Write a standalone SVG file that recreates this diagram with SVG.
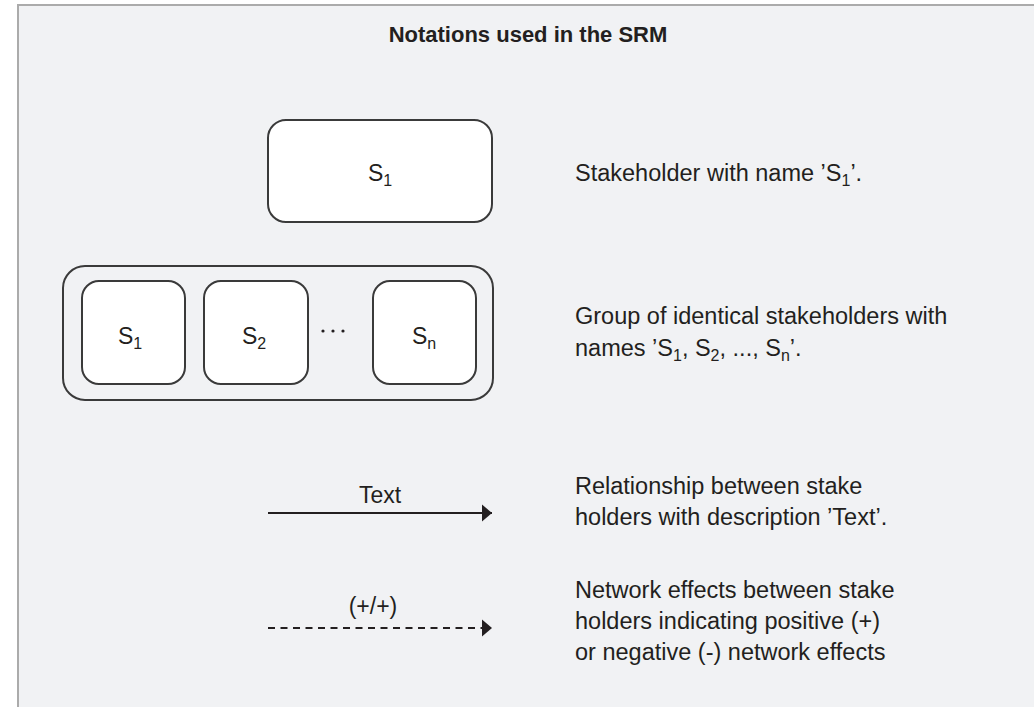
<svg xmlns="http://www.w3.org/2000/svg" width="1034" height="707" viewBox="0 0 1034 707">
  <style>
    text { font-family: "Liberation Sans", Arial, sans-serif; fill: #231f20; }
    .title { font-size: 22px; font-weight: bold; }
    .lbl { font-size: 23px; }
    .desc { font-size: 23.5px; }
    .sub { font-size: 16px; }
    .node { fill: #ffffff; stroke: #3a3a3a; stroke-width: 2; }
    .group { fill: none; stroke: #3a3a3a; stroke-width: 2; }
    .edge { fill: none; stroke: #231f20; stroke-width: 2; }
    .dashed { stroke-dasharray: 7 5.5; }
  </style>
  <defs>
    <marker id="arrow" markerUnits="userSpaceOnUse" markerWidth="12" markerHeight="20" refX="11" refY="9.5" orient="auto">
      <path d="M1,1 L11,9.5 L1,18 Z" fill="#231f20"/>
    </marker>
  </defs>

  <!-- page and panel frame -->
  <rect x="0" y="0" width="1034" height="707" fill="#ffffff"/>
  <rect x="18" y="5" width="1030" height="720" fill="#f1f2f4" stroke="#ababab" stroke-width="2"/>

  <text class="title" x="528" y="42" text-anchor="middle">Notations used in the SRM</text>

  <!-- single stakeholder -->
  <g id="stakeholder">
    <rect class="node" x="268" y="120" width="224" height="102" rx="18"/>
    <text class="lbl" x="368" y="181">S<tspan class="sub" dy="5">1</tspan></text>
  </g>

  <!-- group of stakeholders -->
  <g id="stakeholder-group">
    <rect class="group" x="63" y="266" width="430" height="134" rx="22"/>
    <g id="group-s1">
      <rect class="node" x="82" y="281" width="103" height="103" rx="17"/>
      <text class="lbl" x="118" y="344">S<tspan class="sub" dy="5">1</tspan></text>
    </g>
    <g id="group-s2">
      <rect class="node" x="204" y="281" width="104" height="103" rx="17"/>
      <text class="lbl" x="242" y="344">S<tspan class="sub" dy="5">2</tspan></text>
    </g>
    <g id="group-dots" fill="#231f20">
      <circle cx="323" cy="331" r="1.6"/>
      <circle cx="333" cy="331" r="1.6"/>
      <circle cx="343" cy="331" r="1.6"/>
    </g>
    <g id="group-sn">
      <rect class="node" x="373" y="281" width="103" height="103" rx="17"/>
      <text class="lbl" x="412" y="344">S<tspan class="sub" dy="5">n</tspan></text>
    </g>
  </g>

  <!-- connectors -->
  <g id="connectors">
    <line class="edge" x1="268" y1="513" x2="492" y2="513" marker-end="url(#arrow)"/>
    <text class="lbl" x="380" y="503" text-anchor="middle">Text</text>
    <line class="edge dashed" x1="268" y1="628" x2="492" y2="628" marker-end="url(#arrow)"/>
    <text class="lbl" x="373" y="614" text-anchor="middle">(+/+)</text>
  </g>

  <!-- descriptions -->
  <g id="descriptions">
    <text class="desc" x="575" y="181">Stakeholder with name ’S<tspan class="sub" dy="5">1</tspan><tspan dy="-5">’.</tspan></text>
    <text class="desc" x="575" y="324">Group of identical stakeholders with</text>
    <text class="desc" x="575" y="356">names ’S<tspan class="sub" dy="5">1</tspan><tspan dy="-5">, S</tspan><tspan class="sub" dy="5">2</tspan><tspan dy="-5">, ..., S</tspan><tspan class="sub" dy="5">n</tspan><tspan dy="-5">’.</tspan></text>
    <text class="desc" x="575" y="494">Relationship between stake</text>
    <text class="desc" x="575" y="525">holders with description ’Text’.</text>
    <text class="desc" x="575" y="598">Network effects between stake</text>
    <text class="desc" x="575" y="629">holders indicating positive (+)</text>
    <text class="desc" x="575" y="660">or negative (-) network effects</text>
  </g>
</svg>
